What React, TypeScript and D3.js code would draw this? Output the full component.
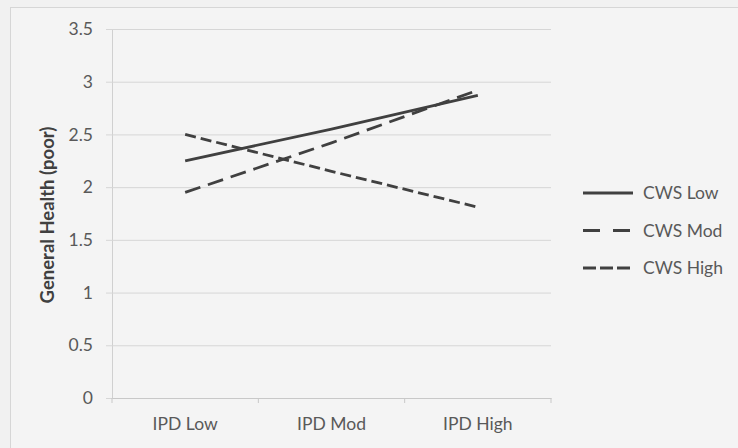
import React, { useEffect, useRef } from "react";
import * as d3 from "d3";

const categories = ["IPD Low", "IPD Mod", "IPD High"];
const seriesNames = ["CWS Low", "CWS Mod", "CWS High"];
const cwsLow = [2.25, 2.55, 2.87];
const cwsMod = [1.95, 2.42, 2.92];
const cwsHigh = [2.5, 2.15, 1.81];
const yTicks = [0, 0.5, 1, 1.5, 2, 2.5, 3, 3.5];
const dashes = ["none", "16,8", "11,5"];
const legendDashes = ["none", "17,13", "13,4"];

export default function App() {
  const ref = useRef<SVGSVGElement>(null);

  useEffect(() => {
    const svg = d3.select(ref.current);
    svg.selectAll("*").remove();

    const W = 738, H = 448;
    const left = 112, right = 551, top = 29, bottom = 398;
    const font = "Lato, 'Open Sans', sans-serif";
    const ink = "#404040";
    const textCol = "#595959";

    svg.append("rect").attr("width", W).attr("height", H).attr("fill", "#f1f1f1");
    // chart frame
    svg.append("rect")
      .attr("x", 10.5).attr("y", 7.5)
      .attr("width", W).attr("height", H)
      .attr("fill", "#f4f4f4")
      .attr("stroke", "#d6d6d6");

    const x = d3.scaleBand().domain(categories).range([left, right]);
    const y = d3.scaleLinear().domain([0, 3.5]).range([bottom, top]);

    // grid + y axis
    const yAxis = d3.axisLeft(y).tickValues(yTicks).tickSize(-(right - left)).tickPadding(19)
      .tickFormat((d) => String(d));
    const gy = svg.append("g").attr("transform", `translate(${left},0)`).call(yAxis);
    gy.select(".domain").attr("stroke", "#d0d0d0");
    gy.selectAll(".tick line").attr("stroke", "#d6d6d6").attr("x1", -6);
    gy.selectAll(".tick text")
      .attr("fill", textCol).style("font-family", font).style("font-size", "17.5px");

    // x axis
    const xAxis = d3.axisBottom(x).tickSize(0).tickPadding(20);
    const gx = svg.append("g").attr("transform", `translate(0,${bottom})`).call(xAxis);
    gx.select(".domain").attr("stroke", "#c8c8c8");
    gx.selectAll(".tick text")
      .attr("fill", textCol).style("font-family", font).style("font-size", "17.5px");
    // category boundary ticks
    svg.append("g").selectAll("line")
      .data([...categories.map((c) => x(c) as number), right])
      .join("line")
      .attr("x1", (d) => d).attr("x2", (d) => d)
      .attr("y1", bottom).attr("y2", bottom + 5)
      .attr("stroke", "#c8c8c8");

    // y title
    svg.append("text")
      .attr("transform", `translate(54,215) rotate(-90)`)
      .attr("text-anchor", "middle")
      .attr("fill", ink)
      .style("font-family", font).style("font-size", "18.5px").style("font-weight", "bold")
      .text("General Health (poor)");

    const data = [cwsLow, cwsMod, cwsHigh];
    const line = d3.line<number>()
      .x((_, i) => (x(categories[i]) as number) + x.bandwidth() / 2)
      .y((d) => y(d));

    svg.append("g").selectAll("path")
      .data(data)
      .join("path")
      .attr("d", (d) => line(d))
      .attr("fill", "none")
      .attr("stroke", ink)
      .attr("stroke-width", 2.8)
      .attr("stroke-dasharray", (_, i) => dashes[i]);

    // legend
    const legend = svg.append("g").selectAll("g")
      .data(seriesNames)
      .join("g")
      .attr("transform", (_, i) => `translate(583,${193 + i * 37.5})`);
    legend.append("line")
      .attr("x1", 0).attr("x2", 50)
      .attr("stroke", ink).attr("stroke-width", 2.8)
      .attr("stroke-dasharray", (_, i) => legendDashes[i]);
    legend.append("text")
      .attr("x", 60).attr("dy", "0.35em")
      .attr("fill", textCol)
      .style("font-family", font).style("font-size", "17.5px")
      .text((d) => d);
  }, []);

  return (
    <div style={{ position: "absolute", left: 0, top: 0 }}>
      <svg ref={ref} width={738} height={448} style={{ display: "block" }} />
    </div>
  );
}
